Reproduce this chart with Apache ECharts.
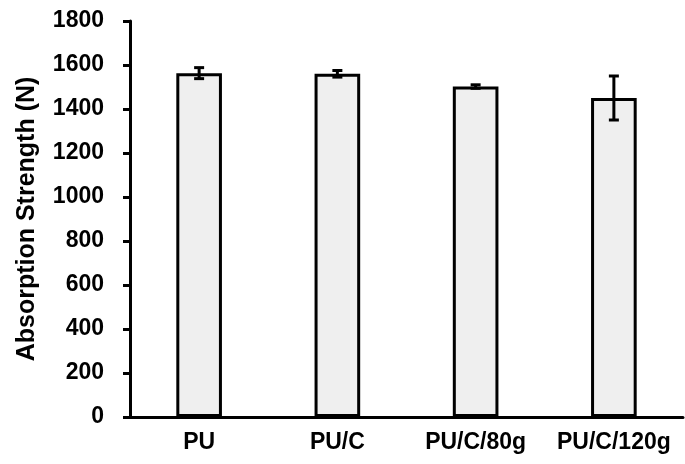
<!DOCTYPE html>
<html><head><meta charset="utf-8">
<script src="https://cdn.jsdelivr.net/npm/echarts@6/dist/echarts.min.js"></script>
<style>html,body{margin:0;padding:0;background:#fff}#c{width:685px;height:464px}</style>
</head><body><div id="c"></div>
<script>
const categories = ['PU', 'PU/C', 'PU/C/80g', 'PU/C/120g'];
const values = [1563, 1560, 1502, 1450];
const errors = [25, 15, 8, 100];
const yTicks = [0, 200, 400, 600, 800, 1000, 1200, 1400, 1600, 1800];

const chart = echarts.init(document.getElementById('c'));
const font = 'Liberation Sans, Arial, sans-serif';
chart.setOption({
  animation: false,
  grid: {left: 130, right: 2, top: 21, bottom: 47},
  xAxis: {
    type: 'category', data: categories,
    axisLine: {lineStyle: {color: '#000', width: 3}},
    axisTick: {show: false},
    axisLabel: {color: '#000', fontFamily: font, fontWeight: 'bold', fontSize: 23, margin: 14,
      interval: 0, hideOverlap: false}
  },
  yAxis: {
    type: 'value', min: yTicks[0], max: yTicks[yTicks.length - 1], interval: yTicks[1] - yTicks[0],
    name: 'Absorption Strength (N)', nameLocation: 'middle', nameGap: 90,
    nameTextStyle: {color: '#000', fontFamily: font, fontWeight: 'bold', fontSize: 25},
    splitLine: {show: false},
    axisLine: {show: true, lineStyle: {color: '#000', width: 3}},
    axisTick: {show: true, length: 7, lineStyle: {color: '#000', width: 3}},
    axisLabel: {color: '#000', fontFamily: font, fontWeight: 'bold', fontSize: 23, margin: 26,
      formatter: v => String(v)}
  },
  series: [{
    type: 'bar', data: values, barWidth: '33%',
    itemStyle: {color: '#efefef', borderColor: '#000', borderWidth: 3}
  }, {
    type: 'custom',
    data: values.map((v, i) => [i, v - errors[i], v + errors[i]]),
    renderItem: function (params, api) {
      const lo = api.coord([api.value(0), api.value(1)]);
      const hi = api.coord([api.value(0), api.value(2)]);
      const w = 5;
      const style = {stroke: '#000', lineWidth: 3, fill: null};
      return {type: 'group', children: [
        {type: 'line', shape: {x1: hi[0], y1: hi[1], x2: lo[0], y2: lo[1]}, style},
        {type: 'line', shape: {x1: hi[0] - w, y1: hi[1], x2: hi[0] + w, y2: hi[1]}, style},
        {type: 'line', shape: {x1: lo[0] - w, y1: lo[1], x2: lo[0] + w, y2: lo[1]}, style}
      ]};
    },
    z: 10
  }]
});
</script></body></html>
